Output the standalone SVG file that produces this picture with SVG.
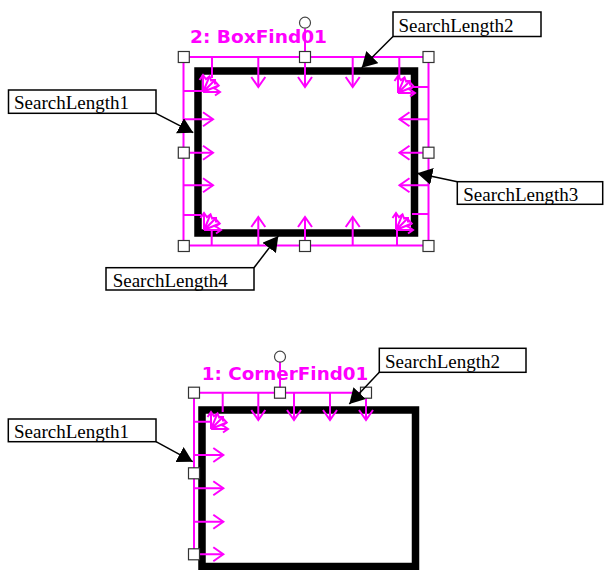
<svg xmlns="http://www.w3.org/2000/svg" xmlns:xlink="http://www.w3.org/1999/xlink" width="605" height="570" viewBox="0 0 605 570">
<style>
.bg{fill:#ffffff}
.obj{fill:none;stroke:#000000;stroke-width:7.5}
.mg{stroke:#ff00ff;stroke-width:2;fill:none}
.hd{fill:#ffffff;stroke:#333333;stroke-width:1.2}
.rot{fill:#ffffff;stroke:#444444;stroke-width:1.2}
.lbl{fill:#ff00ff;font-family:"DejaVu Sans","Verdana",sans-serif;font-weight:bold;font-size:17.5px}
.box{fill:#ffffff;stroke:#000000;stroke-width:1.5}
.ct{fill:#000000;font-family:"Liberation Serif","Times New Roman",serif;font-size:19px}
.lead{stroke:#000000;stroke-width:1.5;fill:none}
</style>
<defs>
<path id="chev" d="M-10,-7 L0,0 L-10,7" class="mg" stroke-width="2.6"/>
<g id="fan" class="mg" stroke-width="2.2">
<path d="M0,0 L0,-17 M0,0 L6.5,-15.7 M0,0 L12,-12 M0,0 L15.7,-6.5 M0,0 L17,0"/>
<path d="M-3.5,-12 L0,-17 L3.5,-12 M2.5,-12.5 L6.5,-15.7 L8.5,-10.5 M7.5,-12 L12,-12 L12,-7.5 M10.5,-3 L15.7,-6.5 L12.5,-10 M12,-3.5 L17,0 L12,3.5"/>
</g>
<marker id="ah" markerUnits="userSpaceOnUse" markerWidth="15" markerHeight="17" viewBox="0 0 15 17" refX="15" refY="8.5" orient="auto">
<path d="M0,0 L15,8.5 L0,17 z" fill="#000000"/>
</marker>
</defs>
<rect class="bg" x="0" y="0" width="605" height="570"/>

<g id="boxfind">
<rect class="obj" x="198" y="71" width="216.5" height="162"/>
<g id="boxfind-search">
<path class="mg" d="M183.5,57 H428.5 M183.5,57 V246 M428.5,57 V246 M183.5,245.5 H428.5 M305,28.5 V57"/>
<path class="mg" d="M258.3,57 V87 M305,57 V87 M352.7,57 V87"/>
<use xlink:href="#chev" transform="translate(258.3,87) rotate(90)"/>
<use xlink:href="#chev" transform="translate(305,87) rotate(90)"/>
<use xlink:href="#chev" transform="translate(352.7,87) rotate(90)"/>
<path class="mg" d="M258.3,245.5 V217 M305,245.5 V217 M352.7,245.5 V217"/>
<use xlink:href="#chev" transform="translate(258.3,217) rotate(-90)"/>
<use xlink:href="#chev" transform="translate(305,217) rotate(-90)"/>
<use xlink:href="#chev" transform="translate(352.7,217) rotate(-90)"/>
<path class="mg" d="M183.5,119.3 H213 M183.5,152.7 H213 M183.5,185.3 H213"/>
<use xlink:href="#chev" transform="translate(213,119.3)"/>
<use xlink:href="#chev" transform="translate(213,152.7)"/>
<use xlink:href="#chev" transform="translate(213,185.3)"/>
<path class="mg" d="M428.5,119.3 H399.5 M428.5,152.7 H399.5 M428.5,185.3 H399.5"/>
<use xlink:href="#chev" transform="translate(399.5,119.3) rotate(180)"/>
<use xlink:href="#chev" transform="translate(399.5,152.7) rotate(180)"/>
<use xlink:href="#chev" transform="translate(399.5,185.3) rotate(180)"/>
<path class="mg" d="M212,57 V78 M183.5,91 H203 M399.3,57 V78 M428.5,87 H414 M211.7,245.5 V229 M183.5,215 H201 M397,245.5 V229 M428.5,214 H412"/>
<use xlink:href="#fan" transform="translate(203,92)"/>
<use xlink:href="#fan" transform="translate(398,93)"/>
<use xlink:href="#fan" transform="translate(204,230)"/>
<use xlink:href="#fan" transform="translate(396,230)"/>
</g>
<g id="boxfind-handles">
<circle class="rot" cx="305" cy="22.7" r="5.5"/>
<rect class="hd" x="178.3" y="51.5" width="11" height="11"/>
<rect class="hd" x="299.5" y="51.5" width="11" height="11"/>
<rect class="hd" x="423" y="51.5" width="11" height="11"/>
<rect class="hd" x="178.3" y="147.2" width="11" height="11"/>
<rect class="hd" x="423" y="147.2" width="11" height="11"/>
<rect class="hd" x="178.3" y="240.5" width="11" height="11"/>
<rect class="hd" x="299.5" y="240.5" width="11" height="11"/>
<rect class="hd" x="423" y="240.5" width="11" height="11"/>
</g>
<text class="lbl" x="190" y="43.3" textLength="137" lengthAdjust="spacingAndGlyphs">2: BoxFind01</text>
</g>

<g id="cornerfind">
<rect class="obj" x="202" y="410" width="213.5" height="156.5"/>
<g id="cornerfind-search">
<path class="mg" d="M194,392.7 H366 M194,392.7 V554.3 M280,361.7 V392.7"/>
<path class="mg" d="M258.3,392.7 V420 M294,392.7 V420 M330,392.7 V420 M366,392.7 V420"/>
<use xlink:href="#chev" transform="translate(258.3,420) rotate(90)"/>
<use xlink:href="#chev" transform="translate(294,420) rotate(90)"/>
<use xlink:href="#chev" transform="translate(330,420) rotate(90)"/>
<use xlink:href="#chev" transform="translate(366,420) rotate(90)"/>
<path class="mg" d="M194,455 H223.3 M194,488.3 H223.3 M194,521.7 H223.3 M194,554.3 H223.3"/>
<use xlink:href="#chev" transform="translate(223.3,455)"/>
<use xlink:href="#chev" transform="translate(223.3,488.3)"/>
<use xlink:href="#chev" transform="translate(223.3,521.7)"/>
<use xlink:href="#chev" transform="translate(223.3,554.3)"/>
<path class="mg" d="M222.7,392.7 V412 M194,421.7 H211"/>
<use xlink:href="#fan" transform="translate(211,429)"/>
</g>
<g id="cornerfind-handles">
<circle class="rot" cx="280" cy="356.7" r="5.5"/>
<rect class="hd" x="188.5" y="387.2" width="11" height="11"/>
<rect class="hd" x="274.5" y="387.2" width="11" height="11"/>
<rect class="hd" x="360.5" y="387.2" width="11" height="11"/>
<rect class="hd" x="188.5" y="467.8" width="11" height="11"/>
<rect class="hd" x="188.5" y="548.8" width="11" height="11"/>
</g>
<text class="lbl" x="201.7" y="380" textLength="166.7" lengthAdjust="spacingAndGlyphs">1: CornerFind01</text>
</g>

<g id="connectors">
<line class="lead" x1="393" y1="36.5" x2="361.7" y2="67.7" marker-end="url(#ah)"/>
<line class="lead" x1="156" y1="113.3" x2="193.3" y2="132.7" marker-end="url(#ah)"/>
<line class="lead" x1="457.3" y1="181.7" x2="417.3" y2="173.3" marker-end="url(#ah)"/>
<line class="lead" x1="254" y1="267.7" x2="278.3" y2="236" marker-end="url(#ah)"/>
<line class="lead" x1="379.3" y1="372.3" x2="349.3" y2="404" marker-end="url(#ah)"/>
<line class="lead" x1="156" y1="441.7" x2="192.7" y2="461.7" marker-end="url(#ah)"/>
</g>

<g id="callout-sl2-top">
<rect class="box" x="393" y="12" width="148" height="24.5"/>
<text class="ct" x="398.5" y="32.3">SearchLength2</text>
</g>
<g id="callout-sl1-top">
<rect class="box" x="8.5" y="90" width="147.5" height="23.3"/>
<text class="ct" x="14" y="109.3">SearchLength1</text>
</g>
<g id="callout-sl3">
<rect class="box" x="457.3" y="181.7" width="145.4" height="22.6"/>
<text class="ct" x="463.3" y="201">SearchLength3</text>
</g>
<g id="callout-sl4">
<rect class="box" x="106" y="267.7" width="148" height="22.3"/>
<text class="ct" x="112.7" y="287.3">SearchLength4</text>
</g>
<g id="callout-sl2-bottom">
<rect class="box" x="379.3" y="348.3" width="146.7" height="24"/>
<text class="ct" x="385" y="368.3">SearchLength2</text>
</g>
<g id="callout-sl1-bottom">
<rect class="box" x="8.3" y="419" width="147.7" height="22.7"/>
<text class="ct" x="14" y="438.3">SearchLength1</text>
</g>
</svg>
